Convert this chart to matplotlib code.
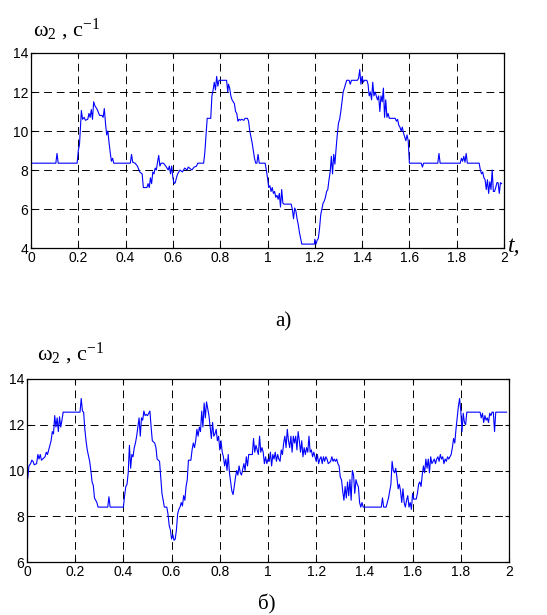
import matplotlib
matplotlib.use("Agg")
import matplotlib.pyplot as plt

# ---- data: top chart (а) ----
t_a = [0.0, 0.105, 0.11, 0.115, 0.195, 0.2, 0.205, 0.21, 0.213, 0.218, 0.225, 0.23, 0.24, 0.245, 0.25,
       0.255, 0.26, 0.265, 0.27, 0.28, 0.29, 0.3, 0.305, 0.31, 0.315, 0.32, 0.325, 0.33, 0.335, 0.34,
       0.345, 0.35, 0.42, 0.425, 0.43, 0.44, 0.45, 0.46, 0.47, 0.475, 0.49, 0.495, 0.5, 0.505, 0.51,
       0.515, 0.52, 0.525, 0.53, 0.535, 0.54, 0.545, 0.55, 0.56, 0.57, 0.575, 0.58, 0.585, 0.59, 0.595,
       0.6, 0.605, 0.61, 0.615, 0.62, 0.63, 0.64, 0.65, 0.66, 0.665, 0.67, 0.68, 0.69, 0.7, 0.705,
       0.73, 0.735, 0.74, 0.745, 0.76, 0.765, 0.77, 0.775, 0.78, 0.785, 0.79, 0.795, 0.827, 0.832,
       0.835, 0.84, 0.845, 0.85, 0.86, 0.865, 0.87, 0.875, 0.88, 0.885, 0.89, 0.9, 0.905, 0.915, 0.92,
       0.925, 0.93, 0.935, 0.94, 0.945, 0.95, 0.955, 0.96, 0.965, 0.99, 0.995, 1.0, 1.005, 1.01, 1.015,
       1.02, 1.025, 1.03, 1.035, 1.04, 1.045, 1.05, 1.055, 1.06, 1.065, 1.07, 1.1, 1.105, 1.11, 1.115,
       1.12, 1.125, 1.13, 1.135, 1.14, 1.145, 1.198, 1.2, 1.205, 1.21, 1.215, 1.22, 1.225, 1.23, 1.235,
       1.24, 1.245, 1.25, 1.255, 1.26, 1.265, 1.27, 1.275, 1.28, 1.285, 1.29, 1.295, 1.3, 1.305, 1.31,
       1.315, 1.32, 1.325, 1.33, 1.335, 1.345, 1.35, 1.355, 1.38, 1.385, 1.39, 1.395, 1.4, 1.405, 1.41,
       1.42, 1.425, 1.43, 1.435, 1.44, 1.445, 1.45, 1.455, 1.46, 1.465, 1.47, 1.475, 1.48, 1.485, 1.49,
       1.495, 1.5, 1.505, 1.51, 1.515, 1.54, 1.545, 1.55, 1.555, 1.56, 1.565, 1.57, 1.575, 1.58, 1.585,
       1.59, 1.595, 1.6, 1.65, 1.655, 1.66, 1.72, 1.725, 1.73, 1.815, 1.82, 1.825, 1.83, 1.835, 1.84,
       1.845, 1.895, 1.9, 1.905, 1.91, 1.915, 1.92, 1.925, 1.93, 1.935, 1.94, 1.945, 1.95, 1.955, 1.96,
       1.965, 1.97, 1.975, 1.98, 1.985, 1.99]
w_a = [8.35, 8.35, 8.85, 8.35, 8.35, 9.0, 9.3, 10.4, 11.05, 10.6, 10.7, 10.55, 10.6, 10.9, 10.7,
       11.1, 10.6, 11.5, 11.3, 11.1, 10.8, 10.8, 10.7, 11.15, 10.4, 9.8, 10.0, 9.4, 8.9, 8.45,
       8.6, 8.35, 8.35, 8.8, 8.4, 8.35, 8.2, 7.9, 7.8, 7.1, 7.1, 7.3, 7.1, 7.6, 7.3,
       7.9, 7.8, 8.1, 8.0, 8.4, 8.75, 8.2, 8.35, 8.35, 8.2, 8.1, 8.0, 8.2, 7.8, 8.2,
       7.6, 7.3, 7.35, 7.6, 7.8, 8.0, 7.9, 8.1, 8.0, 8.15, 8.1, 8.0, 8.15, 8.2, 8.35,
       8.35, 8.9, 9.8, 10.65, 10.65, 11.8, 12.1, 12.5, 12.1, 12.8, 12.3, 12.6, 12.6, 12.0,
       12.4, 12.2, 11.8, 11.6, 11.4, 11.0, 10.9, 10.5, 10.6, 10.55, 10.6, 10.55, 10.65, 10.65, 10.5,
       10.0, 9.7, 9.4, 9.0, 8.6, 8.35, 8.35, 8.8, 8.35, 8.35, 8.0, 7.6, 7.1, 7.2, 6.9,
       7.1, 6.8, 6.9, 6.6, 6.7, 6.5, 6.8, 6.1, 7.0, 6.3, 6.25, 6.25, 6.0, 5.5, 6.05,
       5.9, 5.5, 5.2, 4.8, 4.5, 4.2, 4.2, 4.45, 4.2, 4.4, 4.5, 5.0, 5.7, 6.0, 6.3,
       6.4, 6.6, 6.9, 7.0, 7.5, 7.9, 8.7, 7.8, 8.8, 8.3, 9.1, 9.8, 10.4, 10.6, 11.0,
       11.5, 12.0, 12.2, 12.4, 12.6, 12.6, 12.4, 12.6, 12.6, 12.7, 13.15, 12.4, 12.8, 12.5, 12.6,
       12.6, 12.4, 11.8, 12.0, 11.6, 12.5, 11.8, 12.0, 11.8, 11.6, 11.8, 11.0, 11.8, 11.5, 12.2,
       10.7, 11.6, 10.7, 10.9, 10.65, 10.65, 10.5, 10.6, 10.3, 10.2, 10.0, 10.2, 9.9, 9.7, 9.5,
       9.8, 9.5, 8.35, 8.35, 8.15, 8.35, 8.35, 8.85, 8.35, 8.35, 8.6, 8.45, 8.7, 8.4, 8.85,
       8.35, 8.35, 8.0, 7.8, 7.9, 7.6, 7.5, 7.0, 7.5, 6.8, 7.4, 7.0, 8.0, 6.9, 6.9,
       7.1, 7.35, 7.35, 6.8, 7.35, 7.3]

# ---- data: bottom chart (б) ----
t_b = [0.0, 0.003, 0.008, 0.015, 0.02, 0.025, 0.03, 0.04, 0.045, 0.05, 0.055, 0.06, 0.07, 0.075, 0.08,
       0.085, 0.09, 0.095, 0.1, 0.105, 0.11, 0.115, 0.12, 0.125, 0.13, 0.135, 0.14, 0.145, 0.15, 0.22,
       0.225, 0.23, 0.235, 0.24, 0.245, 0.25, 0.26, 0.265, 0.27, 0.275, 0.28, 0.29, 0.295, 0.335, 0.34,
       0.345, 0.4, 0.405, 0.41, 0.415, 0.42, 0.425, 0.43, 0.435, 0.44, 0.445, 0.45, 0.455, 0.46, 0.465,
       0.47, 0.475, 0.48, 0.485, 0.49, 0.495, 0.5, 0.51, 0.515, 0.52, 0.53, 0.535, 0.54, 0.55, 0.555,
       0.56, 0.565, 0.57, 0.58, 0.585, 0.59, 0.595, 0.6, 0.605, 0.61, 0.615, 0.62, 0.625, 0.63, 0.635,
       0.64, 0.645, 0.65, 0.655, 0.66, 0.665, 0.67, 0.68, 0.685, 0.69, 0.695, 0.7, 0.705, 0.71, 0.715,
       0.72, 0.725, 0.73, 0.735, 0.74, 0.745, 0.75, 0.755, 0.76, 0.765, 0.77, 0.775, 0.78, 0.785, 0.79,
       0.795, 0.8, 0.805, 0.81, 0.815, 0.82, 0.825, 0.83, 0.835, 0.84, 0.845, 0.85, 0.855, 0.86, 0.865,
       0.87, 0.875, 0.88, 0.885, 0.89, 0.9, 0.905, 0.91, 0.915, 0.92, 0.935, 0.94, 0.945, 0.95, 0.955,
       0.96, 0.965, 0.97, 0.975, 0.98, 0.985, 0.99, 0.995, 1.0, 1.005, 1.01, 1.015, 1.02, 1.025, 1.03,
       1.035, 1.04, 1.045, 1.05, 1.055, 1.06, 1.065, 1.07, 1.075, 1.08, 1.085, 1.09, 1.095, 1.1, 1.105,
       1.11, 1.115, 1.12, 1.125, 1.13, 1.135, 1.14, 1.145, 1.15, 1.155, 1.16, 1.165, 1.17, 1.175, 1.18,
       1.185, 1.19, 1.2, 1.205, 1.21, 1.215, 1.22, 1.225, 1.23, 1.235, 1.24, 1.245, 1.25, 1.26, 1.265,
       1.27, 1.275, 1.28, 1.285, 1.29, 1.295, 1.3, 1.305, 1.31, 1.315, 1.32, 1.325, 1.33, 1.335, 1.34,
       1.345, 1.35, 1.355, 1.36, 1.365, 1.37, 1.375, 1.38, 1.385, 1.39, 1.395, 1.47, 1.475, 1.48, 1.49,
       1.5, 1.505, 1.51, 1.515, 1.52, 1.525, 1.53, 1.535, 1.54, 1.545, 1.55, 1.555, 1.56, 1.565, 1.57,
       1.575, 1.58, 1.585, 1.59, 1.595, 1.6, 1.605, 1.615, 1.62, 1.625, 1.63, 1.635, 1.64, 1.645, 1.65,
       1.655, 1.66, 1.665, 1.67, 1.675, 1.68, 1.685, 1.69, 1.695, 1.7, 1.705, 1.71, 1.715, 1.72, 1.725,
       1.73, 1.735, 1.74, 1.745, 1.75, 1.76, 1.765, 1.77, 1.775, 1.78, 1.785, 1.79, 1.795, 1.8, 1.805,
       1.81, 1.815, 1.82, 1.825, 1.88, 1.885, 1.89, 1.895, 1.9, 1.905, 1.91, 1.915, 1.92, 1.925, 1.93,
       1.935, 1.94, 1.945, 1.99]
w_b = [10.0, 9.65, 10.2, 10.3, 10.45, 10.4, 10.25, 10.3, 10.7, 10.5, 10.7, 10.45, 10.55, 10.6, 10.8,
       10.7, 10.9, 11.1, 11.3, 11.7, 11.6, 12.4, 11.9, 12.3, 11.7, 12.35, 11.9, 12.2, 12.55, 12.55,
       13.15, 12.6, 12.55, 11.8, 11.3, 10.9, 10.4, 10.0, 9.5, 9.35, 8.8, 8.6, 8.4, 8.4, 8.85,
       8.4, 8.4, 8.9, 9.3, 9.4, 9.9, 11.1, 10.1, 10.7, 10.6, 11.0, 11.2, 11.5, 11.9, 12.3,
       11.5, 12.3, 12.2, 12.6, 12.4, 12.45, 12.4, 12.6, 11.9, 11.3, 11.2, 11.0, 10.5, 10.4, 9.7,
       9.0, 8.7, 8.4, 8.4, 8.1, 7.6, 7.4, 7.0, 7.2, 6.95, 7.0, 7.4, 8.1, 8.3, 8.4,
       8.6, 8.45, 8.9, 8.7, 9.3, 9.6, 10.45, 10.45, 10.9, 11.2, 11.0, 11.3, 11.8, 11.5, 11.9,
       11.7, 12.6, 11.9, 12.95, 12.3, 13.0, 12.7, 12.4, 11.9, 11.4, 12.1, 11.5, 11.6, 11.8, 11.3,
       11.5, 10.9, 11.3, 10.8, 10.6, 10.2, 10.5, 10.0, 10.7, 9.9, 9.5, 9.1, 8.95, 9.3, 9.7,
       10.0, 9.8, 10.2, 9.9, 9.8, 10.3, 10.0, 10.6, 10.2, 10.7, 10.7, 11.4, 10.8, 11.1, 10.9,
       10.7, 11.5, 10.8, 11.0, 10.8, 10.3, 10.6, 10.3, 10.5, 10.4, 10.8, 10.2, 10.7, 10.5, 10.8,
       10.4, 10.7, 10.5, 10.4, 10.9, 10.7, 11.2, 11.5, 11.0, 11.8, 11.3, 11.0, 11.5, 10.8, 11.5,
       11.2, 11.5, 10.9, 11.7, 11.3, 10.8, 11.3, 10.6, 11.0, 10.7, 11.0, 10.8, 11.5, 10.8, 10.9,
       10.6, 10.8, 10.4, 10.7, 10.3, 10.5, 10.6, 10.3, 10.6, 10.4, 10.6, 10.5, 10.3, 10.4, 10.6,
       10.4, 10.5, 10.4, 10.5, 10.3, 10.2, 9.7, 9.6, 9.1, 8.7, 9.3, 8.8, 9.5, 8.9, 9.6,
       8.7, 10.0, 9.8, 9.0, 9.6, 9.4, 9.3, 8.6, 8.4, 8.6, 8.4, 8.4, 8.8, 8.4, 8.4,
       8.8, 9.1, 9.4, 10.4, 10.0, 9.9, 10.1, 9.7, 9.2, 9.4, 9.1, 8.6, 9.2, 8.6, 8.4,
       8.7, 8.9, 8.4, 8.6, 8.3, 9.0, 8.75, 8.75, 9.0, 9.4, 9.5, 9.3, 9.8, 10.2, 9.9,
       10.5, 10.1, 10.5, 9.9, 10.6, 10.3, 10.4, 10.5, 10.3, 10.5, 10.6, 10.4, 10.7, 10.5, 10.6,
       10.3, 10.5, 10.4, 10.6, 10.5, 10.7, 11.0, 11.4, 11.2, 11.8, 12.3, 12.8, 13.15, 12.6, 11.7,
       12.5, 12.1, 12.0, 12.55, 12.55, 12.3, 12.5, 12.1, 12.4, 12.2, 12.3, 12.1, 12.5, 12.4, 12.55,
       12.55, 11.7, 12.55, 12.55]

xticks = [0, 0.2, 0.4, 0.6, 0.8, 1, 1.2, 1.4, 1.6, 1.8, 2]
xticklabels = ["0", "0.2", "0.4", "0.6", "0.8", "1", "1.2", "1.4", "1.6", "1.8", "2"]
yticks_a = [4, 6, 8, 10, 12, 14]
yticks_b = [6, 8, 10, 12, 14]

plt.rcParams['font.family'] = ['Liberation Sans', 'DejaVu Sans']
plt.rcParams['mathtext.fontset'] = 'custom'
plt.rcParams['mathtext.rm'] = 'Liberation Serif'
plt.rcParams['mathtext.it'] = 'Liberation Serif'

W, H = 547, 615
fig = plt.figure(figsize=(W / 100, H / 100), dpi=100)

def box(l, t, r, b):
    return [l / W, 1 - b / H, (r - l) / W, (b - t) / H]

ax1 = fig.add_axes(box(31, 53, 504, 248))
ax2 = fig.add_axes(box(27, 379, 509, 562))

def style(ax, yticks, ylim):
    ax.set_xlim(0, 2)
    ax.set_ylim(*ylim)
    ax.set_xticks(xticks)
    ax.set_xticklabels(xticklabels)
    ax.set_yticks(yticks)
    ax.set_yticklabels([str(v) for v in yticks])
    ax.tick_params(direction='in', length=3, width=0.8, labelsize=10, pad=2, top=True, right=True)
    ax.grid(True, color='black', linestyle=(0, (8, 5)), linewidth=0.7)
    for s in ax.spines.values():
        s.set_linewidth(0.9)
        s.set_color('black')

ax1.plot(t_a, w_a, color='#0000ff', linewidth=0.8)
style(ax1, yticks_a, (4, 14))
ax2.plot(t_b, w_b, color='#0000ff', linewidth=0.8)
style(ax2, yticks_b, (6, 14))

serif = ['Liberation Serif', 'DejaVu Serif']
lbl = r'$\omega_2$ , с$^{-1}$'
fig.text(33 / W, 1 - 36 / H, lbl, fontsize=16, family=serif, ha='left', va='baseline')
fig.text(37 / W, 1 - 360 / H, lbl, fontsize=16, family=serif, ha='left', va='baseline')
fig.text(508 / W, 1 - 252 / H, 't,', fontsize=17, family=serif, style='italic', ha='left', va='baseline')
fig.text(283 / W, 1 - 326 / H, 'а)', fontsize=15, family=serif, ha='center', va='baseline')
fig.text(267 / W, 1 - 609 / H, 'б)', fontsize=15, family=serif, ha='center', va='baseline')

fig.savefig('out.png', dpi=100)
